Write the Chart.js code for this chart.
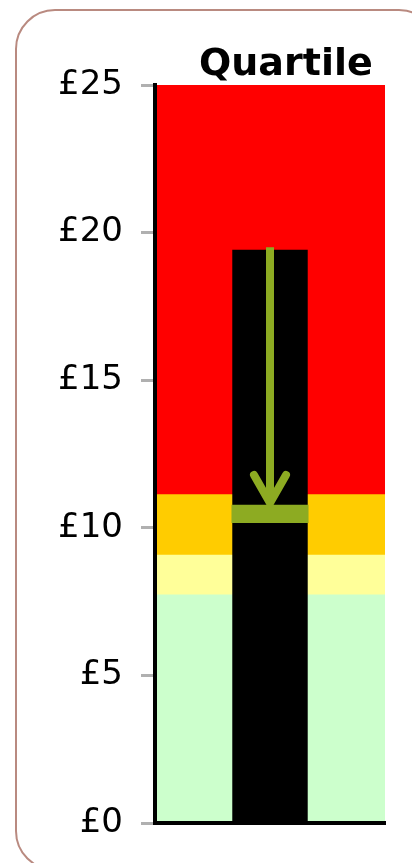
<!DOCTYPE html>
<html lang="en">
  <head>
    <meta charset="UTF-8" />
    <title>Quartile</title>
    <script src="https://cdn.jsdelivr.net/npm/chart.js@4.4.1/dist/chart.umd.min.js"></script>
    <style>
      html, body {
        margin: 0;
        padding: 0;
        background: #fff;
        overflow: hidden;
      }
      .frame {
        position: absolute;
        left: 15px;
        top: 9px;
        width: 420px;
        height: 858px;
        border: 2px solid #b98a80;
        border-radius: 40px;
        pointer-events: none;
      }
      .wrap {
        position: absolute;
        left: 0;
        top: 0;
        width: 412px;
        height: 863px;
      }
      .title {
        position: absolute;
        left: 199px;
        top: 43px;
        font: bold 38px/38px "DejaVu Sans", Verdana, sans-serif;
        color: #000;
        white-space: nowrap;
      }
    </style>
  </head>
  <body>
    <div class="frame"></div>
    <div class="wrap">
      <canvas id="chart"></canvas>
    </div>
    <div class="title">Quartile</div>
    <script>
      // data (values in £)
      const categories = ['Quartile'];
      const bandNames = ['Top band', 'Upper quartile', 'Middle', 'Lower quartile'];
      const bandLow = [11.15, 9.1, 7.75, 0];
      const bandHigh = [25, 11.15, 9.1, 7.75];
      const rangeLow = [0];
      const rangeHigh = [19.42];
      const markerValue = [10.47];
      const arrowFrom = [19.5];
      const arrowTo = [10.84];
      const yTicks = [0, 5, 10, 15, 20, 25];

      // styles
      const bandColours = ['#ff0000', '#ffcc00', '#ffff99', '#ccffcc'];
      const olive = '#8dab22';
      const markerHalf = 0.31;

      // open chevron at the end of the arrow line
      const arrowHead = {
        id: 'arrowHead',
        afterDatasetsDraw(chart) {
          const meta = chart.getDatasetMeta(0);
          const tip = meta.data[meta.data.length - 1];
          const ctx = chart.ctx;
          ctx.save();
          ctx.strokeStyle = olive;
          ctx.lineWidth = 8;
          ctx.lineCap = 'round';
          ctx.lineJoin = 'round';
          ctx.beginPath();
          ctx.moveTo(tip.x - 16, tip.y - 28);
          ctx.lineTo(tip.x, tip.y);
          ctx.lineTo(tip.x + 16, tip.y - 28);
          ctx.stroke();
          ctx.restore();
        }
      };

      const datasets = [
        {
          type: 'line',
          label: 'Arrow',
          data: [
            {x: categories[0], y: arrowFrom[0]},
            {x: categories[0], y: arrowTo[0]}
          ],
          borderColor: olive,
          borderWidth: 8,
          borderCapStyle: 'butt',
          pointRadius: 0,
          order: 0
        },
        {
          type: 'bar',
          label: 'Marker',
          data: markerValue.map((v) => [v - markerHalf, v + markerHalf]),
          backgroundColor: olive,
          barPercentage: 0.335,
          categoryPercentage: 1,
          grouped: false,
          order: 1
        },
        {
          type: 'bar',
          label: 'Range',
          data: rangeLow.map((v, i) => [v, rangeHigh[i]]),
          backgroundColor: '#000',
          barPercentage: 0.328,
          categoryPercentage: 1,
          grouped: false,
          order: 2
        }
      ];

      bandNames.forEach((name, i) => {
        datasets.push({
          type: 'bar',
          label: name,
          data: [[bandLow[i], bandHigh[i]]],
          backgroundColor: bandColours[i],
          barPercentage: 1,
          categoryPercentage: 1,
          grouped: false,
          order: 3 + i
        });
      });

      new Chart(document.getElementById('chart'), {
        data: {labels: categories, datasets: datasets},
        options: {
          responsive: true,
          maintainAspectRatio: false,
          animation: false,
          layout: {padding: {top: 85, right: 27, left: 0, bottom: 0}},
          plugins: {
            legend: {display: false},
            tooltip: {enabled: false}
          },
          scales: {
            x: {
              ticks: {display: false},
              grid: {display: false},
              border: {display: true, color: '#000', width: 4, z: 1},
              afterFit: (s) => { s.height = 40; }
            },
            y: {
              min: 0,
              max: 25,
              afterBuildTicks: (s) => { s.ticks = yTicks.map((v) => ({value: v})); },
              ticks: {
                padding: 18,
                color: '#000',
                font: {family: '"DejaVu Sans", Verdana, sans-serif', size: 34},
                callback: (v) => '£' + v
              },
              grid: {
                drawOnChartArea: false,
                drawTicks: true,
                tickLength: 14,
                tickWidth: 3,
                tickColor: '#b0b0b0'
              },
              border: {display: true, color: '#000', width: 4, z: 1},
              afterFit: (s) => { s.width = 155; }
            }
          }
        },
        plugins: [arrowHead]
      });
    </script>
  </body>
</html>
